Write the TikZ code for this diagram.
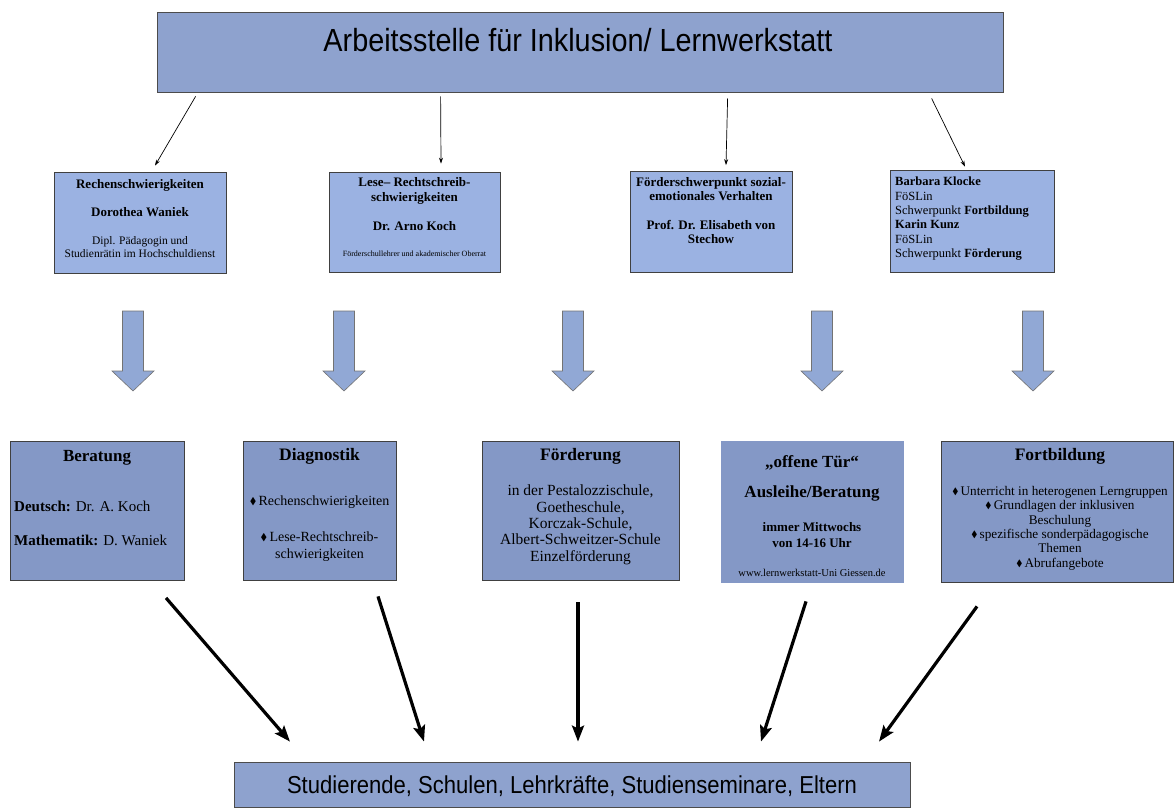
\documentclass[tikz,border=0pt]{standalone}
\usepackage{fontspec}
\usepackage{amssymb}
\setmainfont{Liberation Serif}
\newfontfamily\headfont[FakeStretch=0.9]{Liberation Sans}
\usetikzlibrary{calc,positioning,arrows.meta}

\definecolor{titleblue}{RGB}{142,162,206}
\definecolor{midblue}{RGB}{155,178,226}
\definecolor{lowblue}{RGB}{132,152,198}
\definecolor{arrowblue}{RGB}{145,168,213}

\newcommand{\itemdia}{\raisebox{0.15ex}{$\scriptstyle\blacklozenge$}\,}
\newcommand{\fs}[2]{\fontsize{#1}{#2}\selectfont}

\tikzset{
  topbox/.style={draw=black!70, fill=titleblue, inner sep=0, line width=0.8pt},
  midbox/.style={draw=black!75, fill=midblue, inner sep=0, line width=0.8pt},
  lowbox/.style={draw=black!75, fill=lowblue, inner sep=0, line width=0.8pt},
  boxtxt/.style={anchor=north, inner sep=0, align=center},
  thinarr/.style={-{Stealth[length=6pt,width=4pt]}, line width=0.7pt},
  thickarr/.style={-{Stealth[length=16pt,width=12pt,inset=3pt]}, line width=3.2pt},
  blockarr/.style={fill=arrowblue, draw=black!55, line width=0.6pt}
}

\begin{document}
\begin{tikzpicture}[x=1pt, y=-1pt]
\useasboundingbox (0,0) rectangle (1174,807);

% --- top and bottom boxes ---
\node[topbox, minimum width=846, minimum height=80] (title) at (580,52) {};
\node[inner sep=0, font=\headfont\fs{32}{36}] (titleT) at (578,40)
  {Arbeitsstelle für Inklusion/ Lernwerkstatt};

\node[topbox, minimum width=676, minimum height=45] (stud) at (572,784.5) {};
\node[inner sep=0, font=\headfont\fs{24.5}{28}] (studT) at (572,786)
  {Studierende, Schulen, Lehrkräfte, Studienseminare, Eltern};

% --- people ---
\node[midbox, minimum width=172, minimum height=101] (rech) at (140,222.5) {};
\node[boxtxt, font=\fs{13}{14}] (rechT) at (140,179)
  {\textbf{Rechenschwierigkeiten}\\[14pt]
   \textbf{Dorothea Waniek}\\[14pt]
   {\fs{11.5}{13}Dipl. Pädagogin und}\\[-1pt]
   {\fs{11.5}{13}Studienrätin im Hochschuldienst}};

\node[midbox, minimum width=171, minimum height=100] (lese) at (414.5,222) {};
\node[boxtxt, font=\fs{13}{15}] (leseT) at (414.5,177)
  {\textbf{Lese-- Rechtschreib-}\\
   \textbf{schwierigkeiten}\\[14pt]
   \textbf{Dr. Arno Koch}\\[11pt]
   {\fs{8}{10}Förderschullehrer und akademischer Oberrat}};

\node[midbox, minimum width=162, minimum height=101] (foerd) at (711,221.5) {};
\node[boxtxt, font=\fs{13}{14}\bfseries] (foerdT) at (711,177)
  {Förderschwerpunkt sozial-\\
   emotionales Verhalten\\[15pt]
   Prof. Dr. Elisabeth von\\
   Stechow};

\node[midbox, minimum width=164, minimum height=102] (klocke) at (972,221) {};
\node[boxtxt, anchor=north west, align=left, font=\fs{12.5}{14.3}] (klockeT) at (895,177)
  {\textbf{Barbara Klocke}\\
   FöSLin\\
   Schwerpunkt \textbf{Fortbildung}\\
   \textbf{Karin Kunz}\\
   FöSLin\\
   Schwerpunkt \textbf{Förderung}};

\draw[thinarr] ($(title.south west)+(39,4)$) -- ($(rech.north)+(15,-6)$);
\draw[thinarr] ($(title.south west)+(284,4)$) -- ($(lese.north)+(26.5,-8)$);
\draw[thinarr] ($(title.south west)+(571,6)$) -- ($(foerd.north)+(15,-5.5)$);
\draw[thinarr] ($(title.south west)+(775,6)$) -- ($(klocke.north)+(-7,-3)$);

% --- block arrows ---
\foreach \bx in {133,344,573,822,1033} {
  \draw[blockarr] ({\bx-10.5},311) -- ({\bx+10.5},311) -- ({\bx+10.5},371)
    -- ({\bx+21},371) -- (\bx,391) -- ({\bx-21},371) -- ({\bx-10.5},371) -- cycle;
}

% --- offers ---
\node[lowbox, minimum width=174, minimum height=139] (berat) at (97,510.5) {};
\node[boxtxt, font=\fs{17}{18}\bfseries] (beratH) at (97,450) {Beratung};
\node[boxtxt, anchor=north west, align=left, font=\fs{15}{17}] (beratT) at (14,501)
  {\textbf{Deutsch:} Dr. A. Koch\\[17pt]
   \textbf{Mathematik:} D. Waniek};

\node[lowbox, minimum width=153, minimum height=139] (diag) at (319.5,510.5) {};
\node[boxtxt, font=\fs{17.5}{18}\bfseries] (diagH) at (319.5,448) {Diagnostik};
\node[boxtxt, font=\fs{14}{16.5}] (diagT) at (319.5,496)
  {\itemdia Rechenschwierigkeiten\\[19.5pt]
   \itemdia Lese-Rechtschreib-\\
   schwierigkeiten};

\node[lowbox, minimum width=197, minimum height=139] (foerderung) at (580.5,510.5) {};
\node[boxtxt, font=\fs{17.5}{18}\bfseries] (foerderungH) at (580.5,448) {Förderung};
\node[boxtxt, font=\fs{15.5}{16.3}] (foerderungT) at (580.5,485)
  {in der Pestalozzischule,\\
   Goetheschule,\\
   Korczak-Schule,\\
   Albert-Schweitzer-Schule\\
   Einzelförderung};

\node[lowbox, draw=lowblue, minimum width=182, minimum height=141] (tuer) at (812,511.5) {};
\node[boxtxt, font=\fs{13}{16}\bfseries] (tuerT) at (812,455)
  {{\fs{17}{18}„offene Tür“}\\[14pt]
   {\fs{17}{18}Ausleihe/Beratung}\\[18pt]
   immer Mittwochs\\
   von 14-16 Uhr\\[13pt]
   {\fs{10.5}{11}\mdseries www.lernwerkstatt-Uni Giessen.de}};

\node[lowbox, minimum width=232, minimum height=141] (fortb) at (1057,511.5) {};
\node[boxtxt, font=\fs{17.5}{18}\bfseries] (fortbH) at (1060,448) {Fortbildung};
\node[boxtxt, font=\fs{13.2}{14.4}] (fortbT) at (1060,486)
  {\itemdia Unterricht in heterogenen Lerngruppen\\
   \itemdia Grundlagen der inklusiven\\
   Beschulung\\
   \itemdia spezifische sonderpädagogische\\
   Themen\\
   \itemdia Abrufangebote};

% --- to the target groups ---
\draw[thickarr] ($(berat.south)+(69,17.5)$) -- ($(stud.north)+(-282,-20)$);
\draw[thickarr] ($(diag.south)+(58.5,16)$) -- ($(stud.north)+(-148,-20)$);
\draw[thickarr] ($(foerderung.south)+(-2.5,22)$) -- ($(stud.north)+(6,-20)$);
\draw[thickarr] ($(tuer.south)+(-6,19)$) -- ($(stud.north)+(189,-20)$);
\draw[thickarr] ($(fortb.south)+(-80,24)$) -- ($(stud.north)+(307,-20)$);
\end{tikzpicture}
\end{document}
